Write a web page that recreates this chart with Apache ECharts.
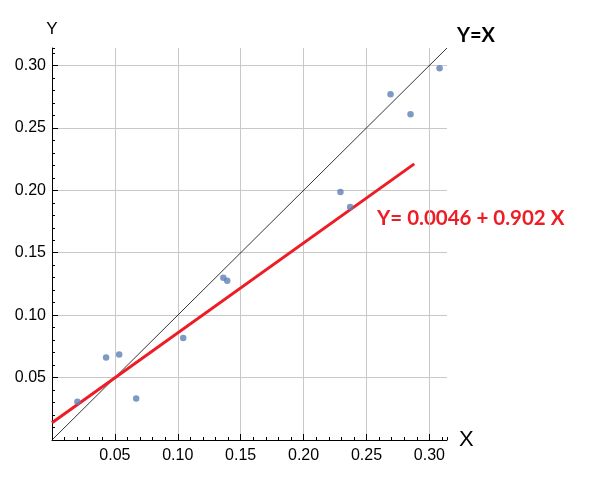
<!DOCTYPE html>
<html>
<head>
<meta charset="utf-8">
<script src="https://cdn.jsdelivr.net/npm/echarts@6/dist/echarts.min.js"></script>
<style>
html,body{margin:0;padding:0;background:#fff;}
#chart{width:599px;height:485px;}
</style>
</head>
<body>
<div id="chart"></div>
<script>
// Data
var pointsX = [0.0202, 0.0430, 0.0534, 0.0669, 0.1043, 0.1362, 0.1393, 0.2293, 0.2370, 0.2691, 0.2850, 0.3081];
var pointsY = [0.0306, 0.0660, 0.0685, 0.0333, 0.0817, 0.1300, 0.1276, 0.1986, 0.1866, 0.2769, 0.2610, 0.2977];
var identityX = [0, 0.314];
var identityY = [0, 0.314];
var fitX = [0, 0.288];
var fitY = [0.0138, 0.2212];
var axisMin = 0;
var axisMax = 0.314;
var majorStep = 0.05;
var minorStep = 0.01;
var fitLabel = 'Y= 0.0046 + 0.902 X';
var identityLabel = 'Y=X';

function zip(a, b) { return a.map(function (v, i) { return [v, b[i]]; }); }

var tickFont = 'Liberation Sans';
var labelFmt = function (v) { return v === 0 ? '' : v.toFixed(2); };

function mkAxis(isX, major) {
  var ax = {
    type: 'value',
    min: axisMin,
    max: axisMax,
    interval: major ? majorStep : minorStep,
    position: isX ? 'bottom' : 'left',
    axisLine: { show: major, lineStyle: { color: '#000', width: 1 } },
    axisTick: { show: true, inside: true, length: major ? 6 : 3, lineStyle: { color: '#000', width: 1 } },
    axisLabel: {
      show: major, formatter: labelFmt, showMaxLabel: false, showMinLabel: false,
      color: '#000', fontFamily: tickFont, fontSize: 16, margin: isX ? 8 : 6
    },
    splitLine: { show: major, showMaxLine: false, showMinLine: false, lineStyle: { color: '#c8c8c8', width: 1 } }
  };
  if (major) {
    ax.name = isX ? 'X' : 'Y';
    ax.nameLocation = 'end';
    ax.nameGap = isX ? 12 : 10;
    ax.nameTextStyle = { fontFamily: tickFont, fontSize: isX ? 22 : 17, color: '#000' };
  }
  return ax;
}

var chart = echarts.init(document.getElementById('chart'), null, { renderer: 'canvas' });
chart.setOption({
  animation: false,
  backgroundColor: '#fff',
  grid: { left: 52, right: 152, top: 48, bottom: 45, containLabel: false },
  xAxis: [mkAxis(true, true), mkAxis(true, false)],
  yAxis: [mkAxis(false, true), mkAxis(false, false)],
  series: [
    {
      type: 'line', data: zip(identityX, identityY), symbol: 'none',
      lineStyle: { color: '#000', width: 0.8 }, z: 2
    },
    {
      type: 'line', data: zip(fitX, fitY), symbol: 'none',
      lineStyle: { color: '#ee1c24', width: 3 }, z: 3
    },
    {
      type: 'scatter', data: zip(pointsX, pointsY), symbolSize: 6.5,
      itemStyle: { color: '#5e81b5' }, z: 4
    }
  ],
  graphic: [
    { type: 'text', left: 457, top: 26, style: { text: identityLabel, fontFamily: 'Lato', fontWeight: 'bold', fontSize: 20, fill: '#000' } },
    { type: 'text', left: 377, top: 208, style: { text: fitLabel, fontFamily: 'Lato', fontWeight: 'bold', fontSize: 20.5, fill: '#ee1c24' } }
  ]
});
</script>
</body>
</html>
